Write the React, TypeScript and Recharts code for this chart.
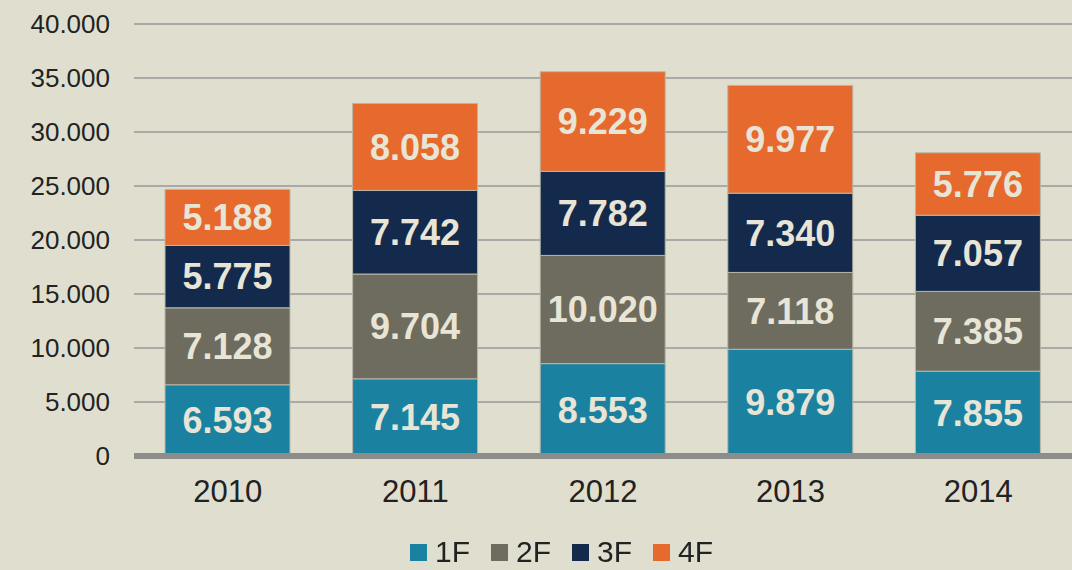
import { BarChart, Bar, XAxis, YAxis, CartesianGrid, Legend, LabelList } from "recharts";

const years = ["2010", "2011", "2012", "2013", "2014"];
const floor1 = [6593, 7145, 8553, 9879, 7855];
const floor2 = [7128, 9704, 10020, 7118, 7385];
const floor3 = [5775, 7742, 7782, 7340, 7057];
const floor4 = [5188, 8058, 9229, 9977, 5776];
const yTicks = [0, 5000, 10000, 15000, 20000, 25000, 30000, 35000, 40000];

const series = [
  { key: "1F", color: "#1A82A0" },
  { key: "2F", color: "#6E6C5F" },
  { key: "3F", color: "#132A4C" },
  { key: "4F", color: "#E6692D" },
];

const data = years.map((y, i) => ({
  year: y,
  "1F": floor1[i],
  "2F": floor2[i],
  "3F": floor3[i],
  "4F": floor4[i],
}));

// 1000er-Trennzeichen als Punkt
const fmt = (v: number) => String(v).replace(/\B(?=(\d{3})+(?!\d))/g, ".");

const FONT = "'Liberation Sans', Arial, sans-serif";

function LegendBox() {
  return (
    <div style={{ display: "flex", alignItems: "center", fontFamily: FONT, fontSize: 30, lineHeight: "34px", color: "#222" }}>
      {series.map((s) => (
        <div key={s.key} style={{ display: "flex", alignItems: "center", width: 81 }}>
          <span style={{ width: 17, height: 17, background: s.color, display: "inline-block", marginRight: 8 }} />
          <span>{s.key}</span>
        </div>
      ))}
    </div>
  );
}

export default function App() {
  return (
    <div style={{ position: "fixed", left: 0, top: 0, width: 1072, height: 570, background: "#E0DFCF" }}>
      <BarChart
        width={1072}
        height={570}
        data={data}
        margin={{ top: 24, right: 0, left: 0, bottom: 0 }}
        barSize={125}
      >
        <CartesianGrid vertical={false} stroke="#A9A9A6" strokeWidth={2} />
        <XAxis
          dataKey="year"
          tickLine={false}
          tickSize={0}
          tickMargin={24}
          height={114 - 56}
          axisLine={{ stroke: "#8C8C8A", strokeWidth: 6 }}
          tick={{ fontSize: 31, fill: "#222", fontFamily: FONT }}
        />
        <YAxis
          width={134}
          domain={[0, 40000]}
          ticks={yTicks}
          tickFormatter={fmt}
          axisLine={false}
          tickLine={false}
          tickSize={0}
          tickMargin={24}
          tick={{ fontSize: 26, fill: "#222", fontFamily: FONT }}
        />
        <Legend
          verticalAlign="bottom"
          height={56}
          content={() => <LegendBox />}
          wrapperStyle={{ left: 410, width: "auto", top: 535 }}
        />
        {series.map((s) => (
          <Bar key={s.key} dataKey={s.key} stackId="a" fill={s.color} stroke="#B9B7A8" strokeWidth={1} isAnimationActive={false}>
            <LabelList
              dataKey={s.key}
              position="center"
              formatter={(v: any) => fmt(Number(v))}
              fill="#E8E5D6"
              stroke="none"
              style={{ fontSize: 36, fontWeight: "bold", fontFamily: FONT }}
            />
          </Bar>
        ))}
      </BarChart>
    </div>
  );
}
